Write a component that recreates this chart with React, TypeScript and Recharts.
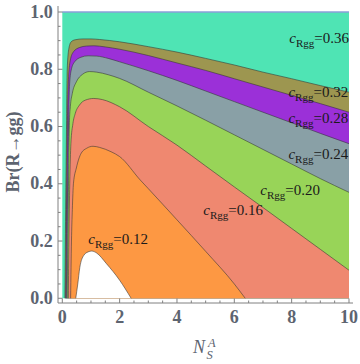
import { ComposedChart, Area, XAxis, YAxis, ReferenceDot } from 'recharts';

// frame ticks (major get labels, the rest are minor marks)
const xTicks = [0, 0.5, 1, 1.5, 2, 2.5, 3, 3.5, 4, 4.5, 5, 5.5, 6, 6.5, 7, 7.5, 8, 8.5, 9, 9.5, 10];
const xMajorTicks = [0, 2, 4, 6, 8, 10];
const yTicks = [0, 0.05, 0.1, 0.15, 0.2, 0.25, 0.3, 0.35, 0.4, 0.45, 0.5, 0.55, 0.6, 0.65, 0.7, 0.75, 0.8, 0.85, 0.9, 0.95, 1];
const yMajorTicks = [0, 0.2, 0.4, 0.6, 0.8, 1];

// upper edge of each filled band
const turquoiseTop = [
  { x: 0, y: 1 },
  { x: 10, y: 1 },
];
const oliveTop = [
  { x: 0.09, y: 0 }, { x: 0.12, y: 0.35 }, { x: 0.15, y: 0.622 }, { x: 0.17, y: 0.797 },
  { x: 0.23, y: 0.873 }, { x: 0.31, y: 0.896 }, { x: 0.45, y: 0.903 }, { x: 0.72, y: 0.906 },
  { x: 1, y: 0.906 }, { x: 1.3, y: 0.904 }, { x: 2, y: 0.896 }, { x: 3, y: 0.879 },
  { x: 4, y: 0.86 }, { x: 5, y: 0.838 }, { x: 6, y: 0.815 }, { x: 7, y: 0.79 },
  { x: 8, y: 0.767 }, { x: 9, y: 0.743 }, { x: 10, y: 0.72 },
];
const purpleTop = [
  { x: 0.12, y: 0 }, { x: 0.15, y: 0.35 }, { x: 0.18, y: 0.622 }, { x: 0.22, y: 0.774 },
  { x: 0.28, y: 0.832 }, { x: 0.39, y: 0.861 }, { x: 0.6, y: 0.876 }, { x: 0.84, y: 0.881 },
  { x: 1.1, y: 0.882 }, { x: 1.5, y: 0.878 }, { x: 2, y: 0.87 }, { x: 3, y: 0.848 },
  { x: 4, y: 0.822 }, { x: 5, y: 0.796 }, { x: 6, y: 0.767 }, { x: 7, y: 0.738 },
  { x: 8, y: 0.709 }, { x: 9, y: 0.68 }, { x: 10, y: 0.65 },
];
const grayTop = [
  { x: 0.14, y: 0 }, { x: 0.18, y: 0.35 }, { x: 0.22, y: 0.622 }, { x: 0.25, y: 0.739 },
  { x: 0.31, y: 0.797 }, { x: 0.43, y: 0.826 }, { x: 0.65, y: 0.842 }, { x: 0.9, y: 0.847 },
  { x: 1.2, y: 0.846 }, { x: 1.6, y: 0.838 }, { x: 2, y: 0.826 }, { x: 3, y: 0.795 },
  { x: 4, y: 0.761 }, { x: 5, y: 0.724 }, { x: 6, y: 0.687 }, { x: 7, y: 0.65 },
  { x: 8, y: 0.613 }, { x: 9, y: 0.576 }, { x: 10, y: 0.54 },
];
const greenTop = [
  { x: 0.17, y: 0 }, { x: 0.21, y: 0.35 }, { x: 0.25, y: 0.622 }, { x: 0.28, y: 0.669 },
  { x: 0.35, y: 0.716 }, { x: 0.49, y: 0.756 }, { x: 0.7, y: 0.782 }, { x: 0.95, y: 0.792 },
  { x: 1.2, y: 0.79 }, { x: 1.6, y: 0.781 }, { x: 2, y: 0.768 }, { x: 3, y: 0.72 },
  { x: 4, y: 0.672 }, { x: 5, y: 0.622 }, { x: 6, y: 0.571 }, { x: 7, y: 0.52 },
  { x: 8, y: 0.469 }, { x: 9, y: 0.418 }, { x: 10, y: 0.37 },
];
const salmonTop = [
  { x: 0.21, y: 0 }, { x: 0.23, y: 0.2 }, { x: 0.26, y: 0.4 }, { x: 0.3, y: 0.54 },
  { x: 0.37, y: 0.61 }, { x: 0.45, y: 0.645 }, { x: 0.6, y: 0.675 }, { x: 0.8, y: 0.692 },
  { x: 1.1, y: 0.698 }, { x: 1.4, y: 0.694 }, { x: 2, y: 0.669 }, { x: 3, y: 0.6 },
  { x: 4, y: 0.535 }, { x: 5, y: 0.462 }, { x: 6, y: 0.389 }, { x: 7, y: 0.317 },
  { x: 8, y: 0.244 }, { x: 9, y: 0.171 }, { x: 10, y: 0.098 },
];
const orangeTop = [
  { x: 0.29, y: 0 }, { x: 0.32, y: 0.2 }, { x: 0.35, y: 0.31 }, { x: 0.39, y: 0.402 },
  { x: 0.49, y: 0.455 }, { x: 0.66, y: 0.507 }, { x: 0.85, y: 0.524 }, { x: 1.07, y: 0.531 },
  { x: 1.3, y: 0.527 }, { x: 1.7, y: 0.512 }, { x: 2, y: 0.495 }, { x: 2.72, y: 0.413 },
  { x: 3, y: 0.383 }, { x: 4, y: 0.274 }, { x: 5, y: 0.164 }, { x: 6, y: 0.05 },
  { x: 6.38, y: 0 },
];
const whiteTop = [
  { x: 0.47, y: 0 }, { x: 0.54, y: 0.05 }, { x: 0.61, y: 0.107 }, { x: 0.75, y: 0.15 },
  { x: 0.9, y: 0.162 }, { x: 1.03, y: 0.165 }, { x: 1.2, y: 0.158 }, { x: 1.54, y: 0.121 },
  { x: 2, y: 0.063 }, { x: 2.4, y: 0 },
];

const LINE = 'rgba(50,50,50,0.55)';
const bands = [
  { key: 'turquoise', data: turquoiseTop, fill: '#4fe4b4', stroke: '#8a9fd8', width: 1.5 },
  { key: 'olive', data: oliveTop, fill: '#9d9650', stroke: LINE, width: 1 },
  { key: 'purple', data: purpleTop, fill: '#9b30d8', stroke: LINE, width: 1 },
  { key: 'gray', data: grayTop, fill: '#89a0a6', stroke: LINE, width: 1 },
  { key: 'green', data: greenTop, fill: '#98d458', stroke: LINE, width: 1 },
  { key: 'salmon', data: salmonTop, fill: '#ef8870', stroke: LINE, width: 1 },
  { key: 'orange', data: orangeTop, fill: '#fd9843', stroke: LINE, width: 1 },
  { key: 'white', data: whiteTop, fill: '#ffffff', stroke: LINE, width: 1 },
];

// contour labels: value and where the label ends (data units, baseline)
const labelValues = ['0.36', '0.32', '0.28', '0.24', '0.20', '0.16', '0.12'];
const labelX = [10, 9.97, 9.97, 9.97, 8.99, 7.0, 2.99];
const labelY = [0.891, 0.704, 0.613, 0.488, 0.36, 0.29, 0.191];

const FRAME = '#808080';
const TICK_TEXT = '#5d6470';
const SERIF = 'Liberation Serif, serif';

const isMajor = (v: number, majors: number[]) => majors.some((m) => Math.abs(m - v) < 1e-9);

function BottomTick({ x, y, payload }: any) {
  const major = isMajor(payload.value, xMajorTicks);
  return (
    <g>
      <line x1={x} x2={x} y1={y} y2={y - (major ? 4.5 : 2.5)} stroke={FRAME} />
      {major && (
        <text x={x} y={y + 20} textAnchor="middle" fill={TICK_TEXT} fontFamily={SERIF} fontWeight="bold" fontSize={18}>
          {payload.value}
        </text>
      )}
    </g>
  );
}

function TopTick({ x, y, payload }: any) {
  const major = isMajor(payload.value, xMajorTicks);
  return <line x1={x} x2={x} y1={y} y2={y + (major ? 4.5 : 2.5)} stroke={FRAME} />;
}

function LeftTick({ x, y, payload }: any) {
  const major = isMajor(payload.value, yMajorTicks);
  return (
    <g>
      <line x1={x} x2={x + (major ? 4.5 : 2.5)} y1={y} y2={y} stroke={FRAME} />
      {major && (
        <text x={x - 5.3} y={y + 5.5} textAnchor="end" fill={TICK_TEXT} fontFamily={SERIF} fontWeight="bold" fontSize={18}>
          {payload.value.toFixed(1)}
        </text>
      )}
    </g>
  );
}

function RightTick({ x, y, payload }: any) {
  const major = isMajor(payload.value, yMajorTicks);
  return <line x1={x} x2={x - (major ? 4.5 : 2.5)} y1={y} y2={y} stroke={FRAME} />;
}

function ContourLabel({ cx, cy, value }: any) {
  return (
    <text x={cx} y={cy} textAnchor="end" fontFamily={SERIF} fontSize={15} fill="#1a1a1a">
      <tspan fontStyle="italic">c</tspan>
      <tspan fontSize={11} dy={4}>Rgg</tspan>
      <tspan dy={-4}>={value}</tspan>
    </text>
  );
}

function YTitle({ viewBox }: any) {
  const cx = viewBox.x + 18.5;
  const cy = viewBox.y + 146;
  return (
    <text
      x={cx}
      y={cy}
      transform={`rotate(-90 ${cx} ${cy})`}
      textAnchor="middle"
      fill={TICK_TEXT}
      fontFamily={SERIF}
      fontWeight="bold"
      fontSize={18}
    >
      Br(R→gg)
    </text>
  );
}

function XTitle({ viewBox }: any) {
  const x0 = viewBox.x + 135;
  const y0 = viewBox.y + 50;
  return (
    <g fill={TICK_TEXT} fontFamily={SERIF} fontStyle="italic">
      <text x={x0} y={y0} fontSize={18}>N</text>
      <text x={x0 + 15} y={y0 - 6.5} fontSize={12.5}>A</text>
      <text x={x0 + 13.5} y={y0 + 6} fontSize={12.5}>S</text>
    </g>
  );
}

export default function App() {
  return (
    <div style={{ position: 'absolute', left: 0, top: 0, width: 360, height: 364, background: '#fff' }}>
      <ComposedChart width={360} height={364} margin={{ top: 6, right: 7, left: 0, bottom: 0 }}>
        <XAxis
          xAxisId="b"
          dataKey="x"
          type="number"
          domain={[-0.15, 10.14]}
          allowDataOverflow
          ticks={xTicks}
          interval={0}
          height={61}
          stroke={FRAME}
          tickSize={0}
          tickMargin={0}
          tickLine={false}
          tick={<BottomTick />}
          label={{ content: <XTitle /> }}
        />
        <XAxis
          xAxisId="t"
          orientation="top"
          type="number"
          domain={[-0.15, 10.14]}
          allowDataOverflow
          ticks={xTicks}
          interval={0}
          height={0}
          stroke={FRAME}
          tickSize={0}
          tickMargin={0}
          tickLine={false}
          tick={<TopTick />}
        />
        <YAxis
          yAxisId="l"
          type="number"
          domain={[-0.0165, 1.021]}
          allowDataOverflow
          ticks={yTicks}
          interval={0}
          width={58}
          stroke={FRAME}
          tickSize={0}
          tickMargin={0}
          tickLine={false}
          tick={<LeftTick />}
          label={{ content: <YTitle /> }}
        />
        <YAxis
          yAxisId="r"
          orientation="right"
          type="number"
          domain={[-0.0165, 1.021]}
          allowDataOverflow
          ticks={yTicks}
          interval={0}
          width={0}
          stroke={FRAME}
          tickSize={0}
          tickMargin={0}
          tickLine={false}
          tick={<RightTick />}
        />

        {bands.map((b) => (
          <Area
            key={b.key}
            xAxisId="b"
            yAxisId="l"
            data={b.data}
            dataKey="y"
            type="monotone"
            baseValue={0}
            fill={b.fill}
            fillOpacity={1}
            stroke={b.stroke}
            strokeWidth={b.width}
            dot={false}
            activeDot={false}
            isAnimationActive={false}
          />
        ))}

        {labelValues.map((v, i) => (
          <ReferenceDot
            key={v}
            xAxisId="b"
            yAxisId="l"
            x={labelX[i]}
            y={labelY[i]}
            r={0}
            ifOverflow="visible"
            shape={(p: any) => <ContourLabel cx={p.cx} cy={p.cy} value={v} />}
          />
        ))}
      </ComposedChart>
    </div>
  );
}
